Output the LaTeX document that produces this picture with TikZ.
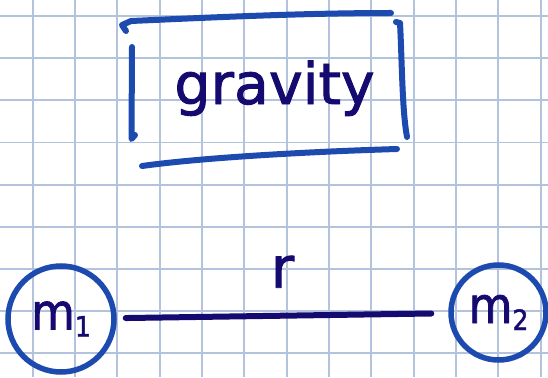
\documentclass[tikz,border=0pt]{standalone}
\usepackage{fontspec}
\newfontfamily\handfont[FakeBold=1.6]{DejaVu Sans}
\newfontfamily\narrowhand[FakeBold=1.6]{DejaVu Sans Condensed}
\usetikzlibrary{calc}

\definecolor{penblue}{RGB}{28,74,174}
\definecolor{inkblue}{RGB}{20,10,112}
\definecolor{gridblue}{RGB}{180,195,221}

\tikzset{
  pen/.style={penblue, line width=6pt, line cap=round, line join=round},
  ink/.style={inkblue, line width=6pt, line cap=round, line join=round},
  word/.style={text=inkblue, inner sep=0pt, font=\handfont\fontsize{57}{60}\selectfont},
  mass/.style={circle, draw=penblue, line width=5.5pt, inner sep=0pt, text=inkblue,
    font=\narrowhand\fontsize{50}{52}\selectfont},
}
\newcommand{\lowdigit}[1]{\raisebox{-7pt}{\fontsize{28}{28}\selectfont #1}}

\begin{document}
\begin{tikzpicture}[x=1pt, y=-1pt]
\useasboundingbox (0,0) rectangle (548,377);

% squared paper
\foreach \k in {0,...,12}
  \draw[gridblue, line width=1.8pt] ({32.7+42.33*\k},0) -- ({32.7+42.33*\k},377);
\foreach \k in {0,...,8}
  \draw[gridblue, line width=1.8pt] (0,{16+42.16*\k}) -- (548,{16+42.16*\k});

% boxed word
\node[word, anchor=base] (gravity) at (274.5,104) {gravity};
\draw[pen] (126,31) -- (122,25) -- (131,21) .. controls (200,18) and (300,13) .. (391,13);
\draw[pen] (132,47) -- (131.5,139) -- (135,135);
\draw[pen] (142,166) .. controls (200,158) and (300,152) .. (397,149);
\draw[pen] (396,22) -- (400,23) .. controls (402,60) and (402,110) .. (407,137);

% two masses
\node[mass, minimum size=106pt] (m1) at (61,319) {m\lowdigit{1}};
\node[mass, minimum size=95pt] (m2) at (498.5,312.5) {m\lowdigit{2}};

\draw[ink, shorten <=9pt, shorten >=17pt] (m1) -- node[word, anchor=south, yshift=25pt] (r) {r} (m2);
\end{tikzpicture}
\end{document}
